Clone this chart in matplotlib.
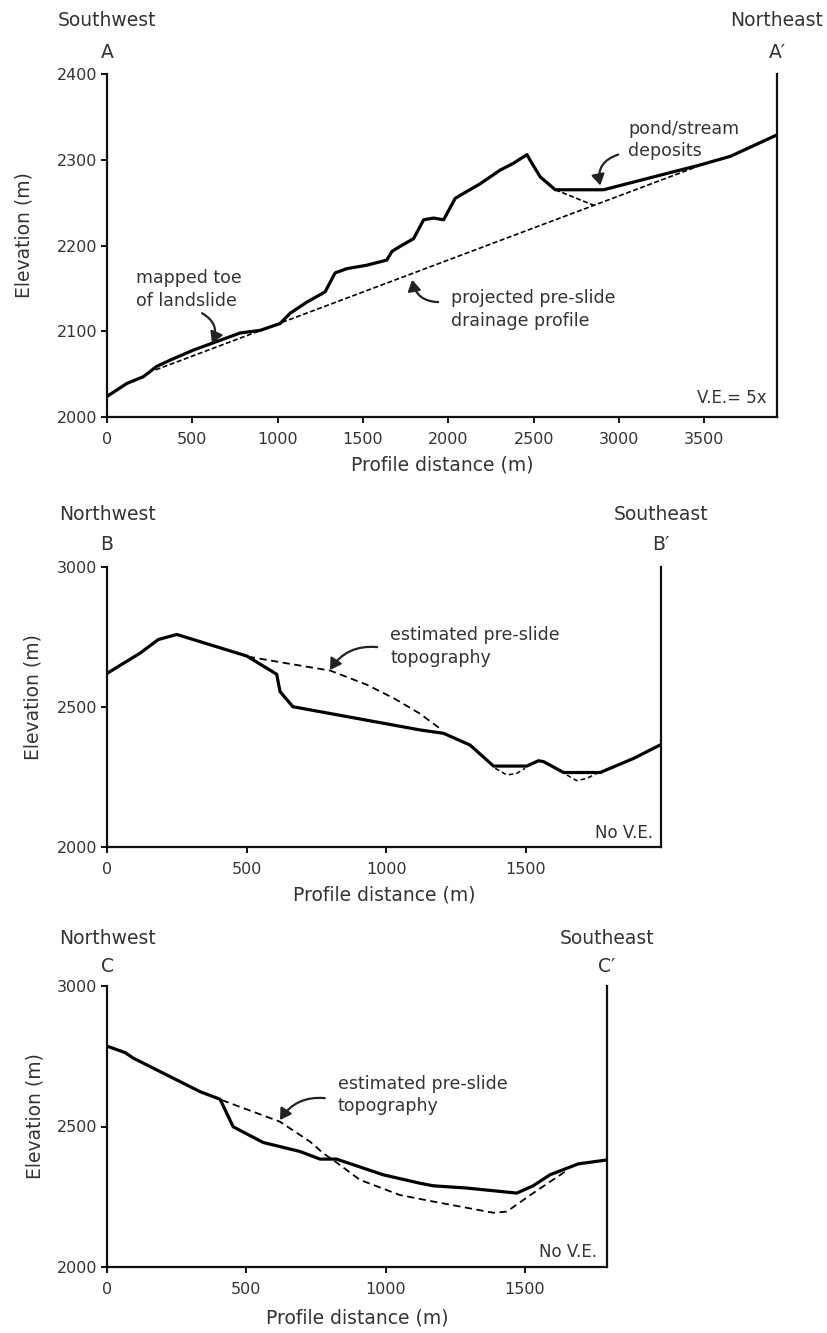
import matplotlib
matplotlib.use("Agg")
import matplotlib.pyplot as plt

plt.rcParams['font.family'] = ['DejaVu Sans']

# ---- profile A-A' (V.E. = 5x) ----
a_dist = [0, 115, 213, 291, 389, 506, 643, 780, 897, 1014, 1073, 1171, 1278, 1336, 1405,
          1522, 1639, 1669, 1717, 1796, 1855, 1913, 1972, 2040, 2108, 2186, 2304, 2382,
          2460, 2489, 2538, 2626, 2909, 3085, 3280, 3476, 3652, 3925]
a_elev = [2024, 2039, 2047, 2059, 2068, 2078, 2088, 2098, 2101, 2109, 2121, 2134, 2146, 2168, 2173,
          2177, 2183, 2193, 2199, 2208, 2230, 2232, 2230, 2255, 2263, 2272, 2288, 2296,
          2306, 2296, 2280, 2265, 2265, 2274, 2284, 2294, 2304, 2329]
a_proj_dist = [285, 3470]
a_proj_elev = [2055, 2293]
a_pond_dist = [2626, 2850]
a_pond_elev = [2265, 2247]

# ---- profile B-B' ----
b_dist = [0, 118, 184, 250, 501, 608, 620, 666, 1122, 1206, 1301, 1385, 1504, 1546, 1564,
          1636, 1767, 1886, 1985]
b_elev = [2620, 2692, 2741, 2759, 2682, 2617, 2555, 2501, 2418, 2406, 2364, 2289, 2289, 2308, 2305,
          2266, 2266, 2316, 2366]
b_pre_dist = [505, 650, 800, 930, 1030, 1120, 1200]
b_pre_elev = [2680, 2655, 2630, 2580, 2530, 2477, 2418]
b_dip1_dist = [1391, 1433, 1468, 1498]
b_dip1_elev = [2281, 2257, 2263, 2281]
b_dip2_dist = [1648, 1683, 1719, 1755]
b_dip2_elev = [2257, 2237, 2245, 2263]

# ---- profile C-C' ----
c_dist = [0, 65, 95, 334, 406, 453, 561, 693, 765, 824, 992, 1124, 1171, 1291, 1471,
          1530, 1590, 1692, 1795]
c_elev = [2786, 2763, 2743, 2624, 2597, 2499, 2443, 2411, 2384, 2384, 2328, 2298, 2289, 2281, 2263,
          2289, 2328, 2367, 2381]
c_pre_dist = [412, 621, 729, 776, 824, 908, 1052, 1171, 1387, 1435, 1530, 1650]
c_pre_elev = [2594, 2517, 2446, 2405, 2372, 2310, 2256, 2233, 2193, 2197, 2263, 2343]

TXT = '#333333'
W, H = 827, 1333


def box(l, t, r, b):
    return [l / W, 1 - b / H, (r - l) / W, (b - t) / H]


def style_axes(ax, xmax, ylim, xticks, yticks, xpad=6):
    ax.set_xlim(0, xmax)
    ax.set_ylim(*ylim)
    ax.spines['top'].set_visible(False)
    for s in ['left', 'bottom', 'right']:
        ax.spines[s].set_linewidth(1.6)
        ax.spines[s].set_color('#111111')
    ax.set_xticks(xticks)
    ax.set_yticks(yticks)
    ax.tick_params(direction='out', length=4, width=1.4, colors='#111111',
                   labelcolor=TXT, labelsize=11.5)
    ax.tick_params(axis='x', pad=7)
    ax.tick_params(axis='y', pad=3)
    ax.set_xlabel('Profile distance (m)', fontsize=13.5, color=TXT, labelpad=xpad)
    ax.set_ylabel('Elevation (m)', fontsize=13.5, color=TXT)


def end_labels(ax, left_dir, left_l, right_dir, right_l, off_dir, off_l):
    kw = dict(xycoords='axes fraction', textcoords='offset points', ha='center',
              va='center', color=TXT, fontsize=13.5)
    ax.annotate(left_dir, (0, 1), xytext=(0, off_dir * 0.72), **kw)
    ax.annotate(left_l, (0, 1), xytext=(0, off_l * 0.72), **kw)
    ax.annotate(right_dir, (1, 1), xytext=(0, off_dir * 0.72), **kw)
    ax.annotate(right_l, (1, 1), xytext=(0, off_l * 0.72), **kw)


def arrow(ax, tail, head, rad):
    ax.annotate('', xy=head, xytext=tail,
                arrowprops=dict(arrowstyle='-|>,head_length=0.5,head_width=0.3',
                                color='#222222', lw=1.6,
                                mutation_scale=13, shrinkA=0, shrinkB=0,
                                connectionstyle='arc3,rad=%s' % rad))


fig = plt.figure(figsize=(W / 100, H / 100), dpi=100)

# panel A
ax = fig.add_axes(box(107, 74, 777, 417))
ax.plot(a_proj_dist, a_proj_elev, color='black', lw=1.2, ls=(0, (3, 1.5)))
ax.plot(a_pond_dist, a_pond_elev, color='black', lw=1.2, ls=(0, (3, 1.5)))
ax.plot(a_dist, a_elev, color='black', lw=2.3, solid_joinstyle='round')
style_axes(ax, 3925, (2000, 2400), range(0, 4000, 500), range(2000, 2401, 100))
ax.yaxis.set_label_coords(-0.109, 0.53)
end_labels(ax, 'Southwest', 'A', 'Northeast', 'A\u2032', 54, 22)
tkw = dict(fontsize=12.5, color=TXT, ha='left', va='center', linespacing=1.35)
ax.text(170, 2149, 'mapped toe\nof landslide', **tkw)
ax.text(3054, 2323, 'pond/stream\ndeposits', **tkw)
ax.text(2016, 2125, 'projected pre-slide\ndrainage profile', **tkw)
arrow(ax, (557, 2121), (615, 2086), -0.45)
arrow(ax, (2995, 2306), (2890, 2270), 0.45)
arrow(ax, (1940, 2134), (1788, 2160), -0.4)
ax.text(0.985, 0.055, 'V.E.= 5x', transform=ax.transAxes, ha='right', va='center',
        fontsize=12, color=TXT)

# panel B
ax = fig.add_axes(box(107, 567, 661, 847))
ax.plot(b_pre_dist, b_pre_elev, color='black', lw=1.3, ls=(0, (4, 2.5)))
ax.plot(b_dip1_dist, b_dip1_elev, color='black', lw=1.1, ls=(0, (3, 2)))
ax.plot(b_dip2_dist, b_dip2_elev, color='black', lw=1.1, ls=(0, (3, 2)))
ax.plot(b_dist, b_elev, color='black', lw=2.3, solid_joinstyle='round')
style_axes(ax, 1985, (2000, 3000), range(0, 2000, 500), [2000, 2500, 3000])
ax.yaxis.set_label_coords(-0.117, 0.535)
end_labels(ax, 'Northwest', 'B', 'Southeast', 'B\u2032', 52, 22)
ax.text(1014, 2716, 'estimated pre-slide\ntopography', **tkw)
arrow(ax, (968, 2714), (799, 2632), 0.3)
ax.text(0.986, 0.05, 'No V.E.', transform=ax.transAxes, ha='right', va='center',
        fontsize=12, color=TXT)

# panel C
ax = fig.add_axes(box(107, 986, 607, 1267))
ax.plot(c_pre_dist, c_pre_elev, color='black', lw=1.3, ls=(0, (4, 2.5)))
ax.plot(c_dist, c_elev, color='black', lw=2.3, solid_joinstyle='round')
style_axes(ax, 1795, (2000, 3000), range(0, 1800, 500), [2000, 2500, 3000], xpad=8)
ax.yaxis.set_label_coords(-0.125, 0.537)
end_labels(ax, 'Northwest', 'C', 'Southeast', 'C\u2032', 48, 19)
ax.text(829, 2612, 'estimated pre-slide\ntopography', **tkw)
arrow(ax, (782, 2601), (621, 2523), 0.3)
ax.text(0.98, 0.053, 'No V.E.', transform=ax.transAxes, ha='right', va='center',
        fontsize=12, color=TXT)

fig.savefig('out.png', dpi=100)
